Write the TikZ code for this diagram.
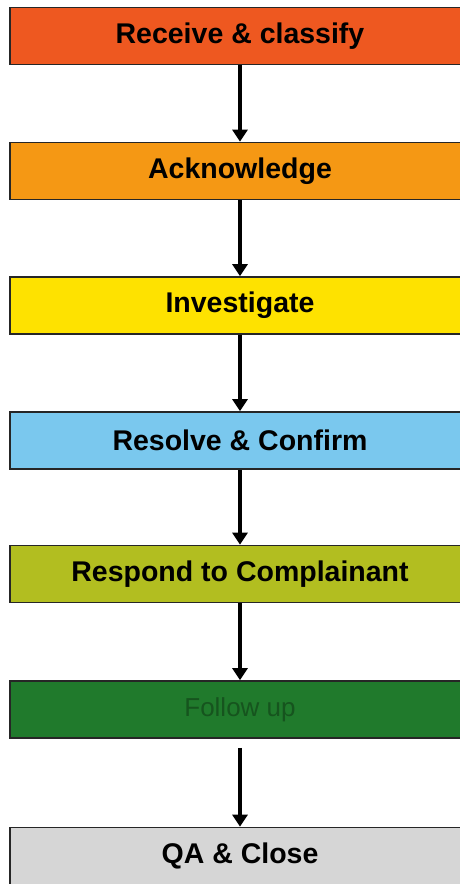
\documentclass[tikz,border=0pt]{standalone}
\usepackage{fontspec}
\setmainfont{Liberation Sans}
\usetikzlibrary{arrows.meta}
\definecolor{cA}{RGB}{238,88,32}
\definecolor{cB}{RGB}{245,152,20}
\definecolor{cC}{RGB}{254,226,0}
\definecolor{cD}{RGB}{122,200,238}
\definecolor{cE}{RGB}{178,190,32}
\definecolor{cF}{RGB}{32,122,44}
\definecolor{cFt}{RGB}{22,84,30}
\definecolor{cG}{RGB}{214,214,214}
\tikzset{
  stepbox/.style={draw=black!85, line width=1.6pt, minimum width=460pt, minimum height=57pt,
    inner sep=0pt, font=\fontsize{28.5}{30}\selectfont\bfseries, anchor=center},
  flow/.style={line width=3.5pt, -{Triangle[width=15pt,length=12pt]}},
}
\begin{document}
\begin{tikzpicture}[x=1pt,y=-1pt]
\useasboundingbox (0,0) rectangle (460,884);
\clip (0,0) rectangle (460,884);
\fill[white] (0,0) rectangle (460,884);
\node[stepbox, fill=cA] (n1) at (240,36) {Receive \& classify};
\node[stepbox, fill=cB] (n2) at (240,171) {Acknowledge};
\node[stepbox, fill=cC] (n3) at (240,305.5) {Investigate};
\node[stepbox, fill=cD] (n4) at (240,440.5) {Resolve \& Confirm};
\node[stepbox, fill=cE] (n5) at (240,574) {Respond to Complainant};
\node[stepbox, fill=cF, text=cFt, font=\fontsize{26}{30}\selectfont] (n6) at (240,709.5) {Follow up};
\node[stepbox, fill=cG] (n7) at (240,856) {QA \& Close};
\draw[flow] (n1.south) -- (n2.north);
\draw[flow] (n2.south) -- (n3.north);
\draw[flow] (n3.south) -- (n4.north);
\draw[flow] (n4.south) -- (n5.north);
\draw[flow] (n5.south) -- (n6.north);
\draw[flow, shorten <=9pt] (n6.south) -- (n7.north);
\end{tikzpicture}
\end{document}
